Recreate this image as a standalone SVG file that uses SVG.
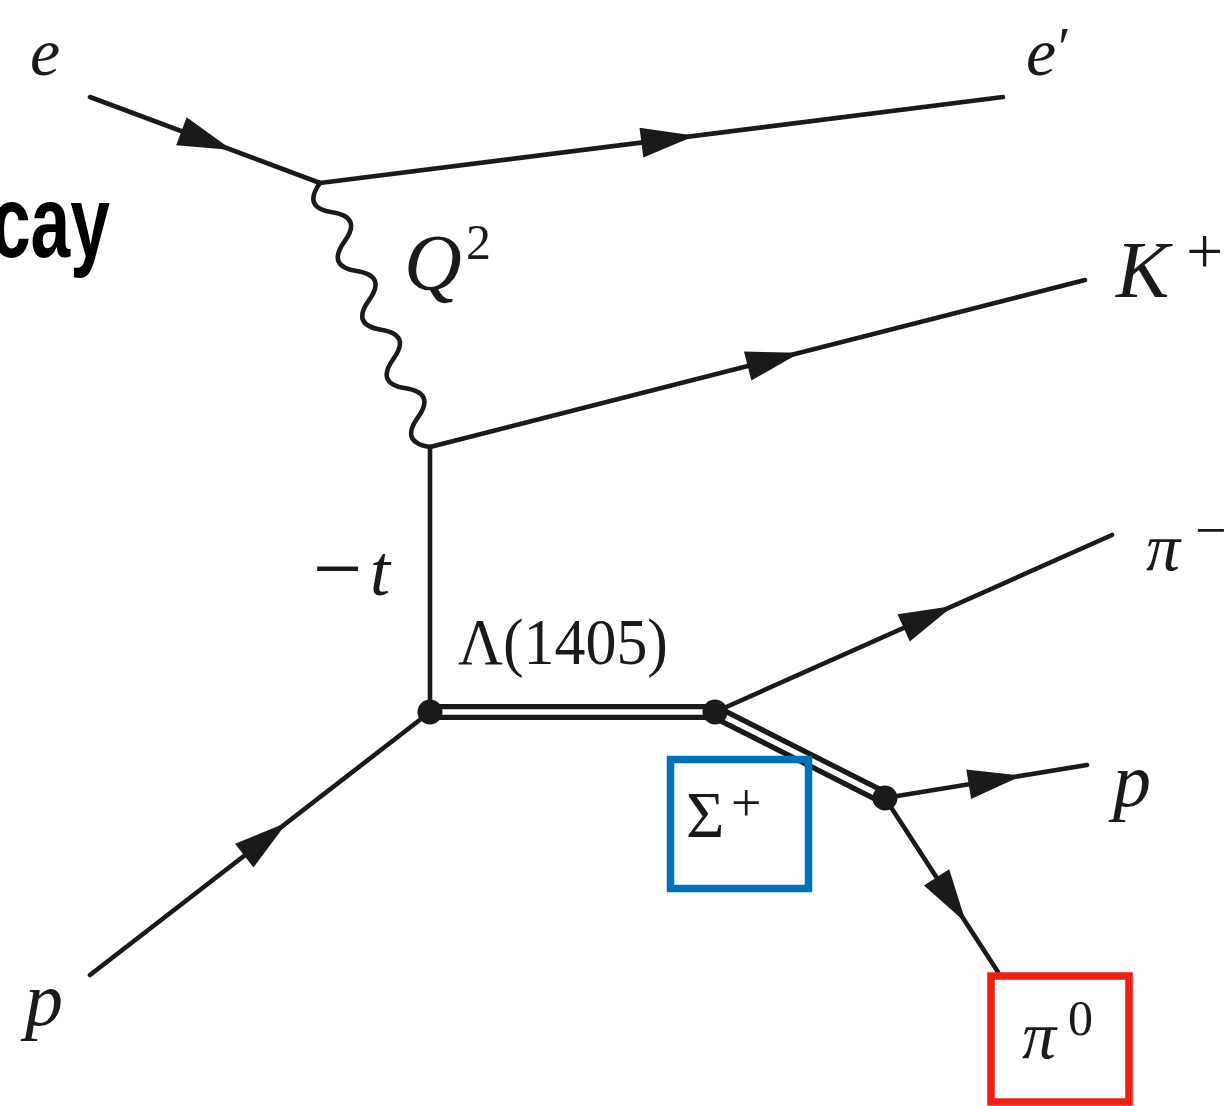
<svg xmlns="http://www.w3.org/2000/svg" xmlns:xlink="http://www.w3.org/1999/xlink" width="1229" height="1106" viewBox="0 0 1229 1106">
<style>
.ln{stroke:#1a1a1a;stroke-width:4.6;fill:none;stroke-linecap:round}
.dbl{stroke:#1a1a1a;stroke-width:16;fill:none}
.dblw{stroke:#fff;stroke-width:5.5;fill:none}
.arr{fill:#1a1a1a}
.dot{fill:#1a1a1a}
.mi{font-family:"Liberation Serif","DejaVu Serif",serif;font-style:italic;fill:#1a1a1a}
.mr{font-family:"Liberation Serif","DejaVu Serif",serif;fill:#1a1a1a}
.box{fill:none;stroke-width:7.5}
</style>
<defs>
<path id="ah" d="M0,0 L-54,-15 L-54,15 Z" class="arr"/>
</defs>
<rect width="1229" height="1106" fill="#fff"/>
<g id="title">
<text transform="translate(110,257) scale(0.7,1)" text-anchor="end" font-family="Liberation Sans, Arial, sans-serif" font-weight="bold" font-size="102" fill="#000">cay</text>
</g>
<g id="connectors">
<line class="ln" x1="90" y1="97" x2="320" y2="183"/>
<line class="ln" x1="320" y1="183" x2="1003" y2="97"/>
<path class="ln" d="M320,183 C308.07,199.45 312.15,209.23 332.22,212.33 C352.29,215.44 356.37,225.22 344.44,241.67 C332.51,258.12 336.59,267.9 356.67,271 C376.74,274.11 380.82,283.89 368.89,300.33 C356.96,316.78 361.04,326.56 381.11,329.67 C401.18,332.78 405.26,342.56 393.33,359 C381.4,375.45 385.48,385.23 405.56,388.33 C425.63,391.44 429.71,401.22 417.78,417.67 C405.85,434.12 409.93,443.9 430,447"/>
<line class="ln" x1="430" y1="447" x2="1085" y2="280"/>
<line class="ln" x1="430" y1="447" x2="430" y2="712"/>
<line class="ln" x1="90" y1="975" x2="430" y2="712"/>
<line class="dbl" x1="430" y1="712" x2="715" y2="712"/>
<line class="dblw" x1="430" y1="712" x2="715" y2="712"/>
<line class="dbl" x1="715" y1="712" x2="885" y2="798"/>
<line class="dblw" x1="715" y1="712" x2="885" y2="798"/>
<line class="ln" x1="715" y1="712" x2="1112" y2="535"/>
<line class="ln" x1="885" y1="798" x2="1087" y2="765"/>
<line class="ln" x1="885" y1="798" x2="998" y2="972"/>
<use xlink:href="#ah" transform="translate(232,150.1) rotate(20.5)"/>
<use xlink:href="#ah" transform="translate(695,135.8) rotate(-7.18)"/>
<use xlink:href="#ah" transform="translate(800,352.7) rotate(-14.3)"/>
<use xlink:href="#ah" transform="translate(287,822.6) rotate(-37.7)"/>
<use xlink:href="#ah" transform="translate(953,605.9) rotate(-24)"/>
<use xlink:href="#ah" transform="translate(1022,775.6) rotate(-9.28)"/>
<use xlink:href="#ah" transform="translate(966,922.7) rotate(57)"/>
</g>
<g id="v-prod"><circle class="dot" cx="430" cy="712" r="12.5"/></g>
<g id="v-lambda"><circle class="dot" cx="715" cy="712" r="12.5"/></g>
<g id="v-sigma"><circle class="dot" cx="885" cy="798" r="12.5"/></g>
<g id="lbl-e"><text class="mi" x="30" y="75" font-size="68">e</text></g>
<g id="lbl-eprime"><text class="mi" x="1026" y="75" font-size="68">e<tspan class="mr" font-style="normal" dx="2" font-size="56" dy="-8">′</tspan></text></g>
<g id="lbl-Q2"><text class="mi" x="404" y="290" font-size="80">Q</text><text class="mr" x="466" y="259" font-size="50">2</text></g>
<g id="lbl-K"><text class="mi" x="1116" y="297" font-size="80">K</text><text class="mr" x="1186" y="273" font-size="66">+</text></g>
<g id="lbl-t"><text class="mr" x="313" y="598" font-size="88">−</text><text class="mi" x="370" y="595" font-size="72">t</text></g>
<g id="lbl-lambda"><text class="mr" x="458" y="664" font-size="66" textLength="210" lengthAdjust="spacingAndGlyphs">Λ(1405)</text></g>
<g id="lbl-piminus"><text class="mi" x="1146" y="570" font-size="68">π</text><text class="mr" x="1195" y="549" font-size="56">−</text></g>
<g id="lbl-p-out"><text class="mi" x="1113" y="806" font-size="76">p</text></g>
<g id="lbl-p-in"><text class="mi" x="25" y="1025" font-size="76">p</text></g>
<g id="sigma-box">
<rect class="box" x="670.5" y="759.5" width="138" height="129" stroke="#0072BC"/>
<text class="mr" x="686" y="837" font-size="66">Σ</text><text class="mr" x="731" y="821" font-size="54">+</text>
</g>
<g id="pi0-box">
<rect class="box" x="991" y="976" width="138" height="126" stroke="#EE2011" stroke-width="8"/>
<text class="mi" x="1022" y="1058" font-size="68">π</text><text class="mr" x="1068" y="1035" font-size="50">0</text>
</g>
</svg>
